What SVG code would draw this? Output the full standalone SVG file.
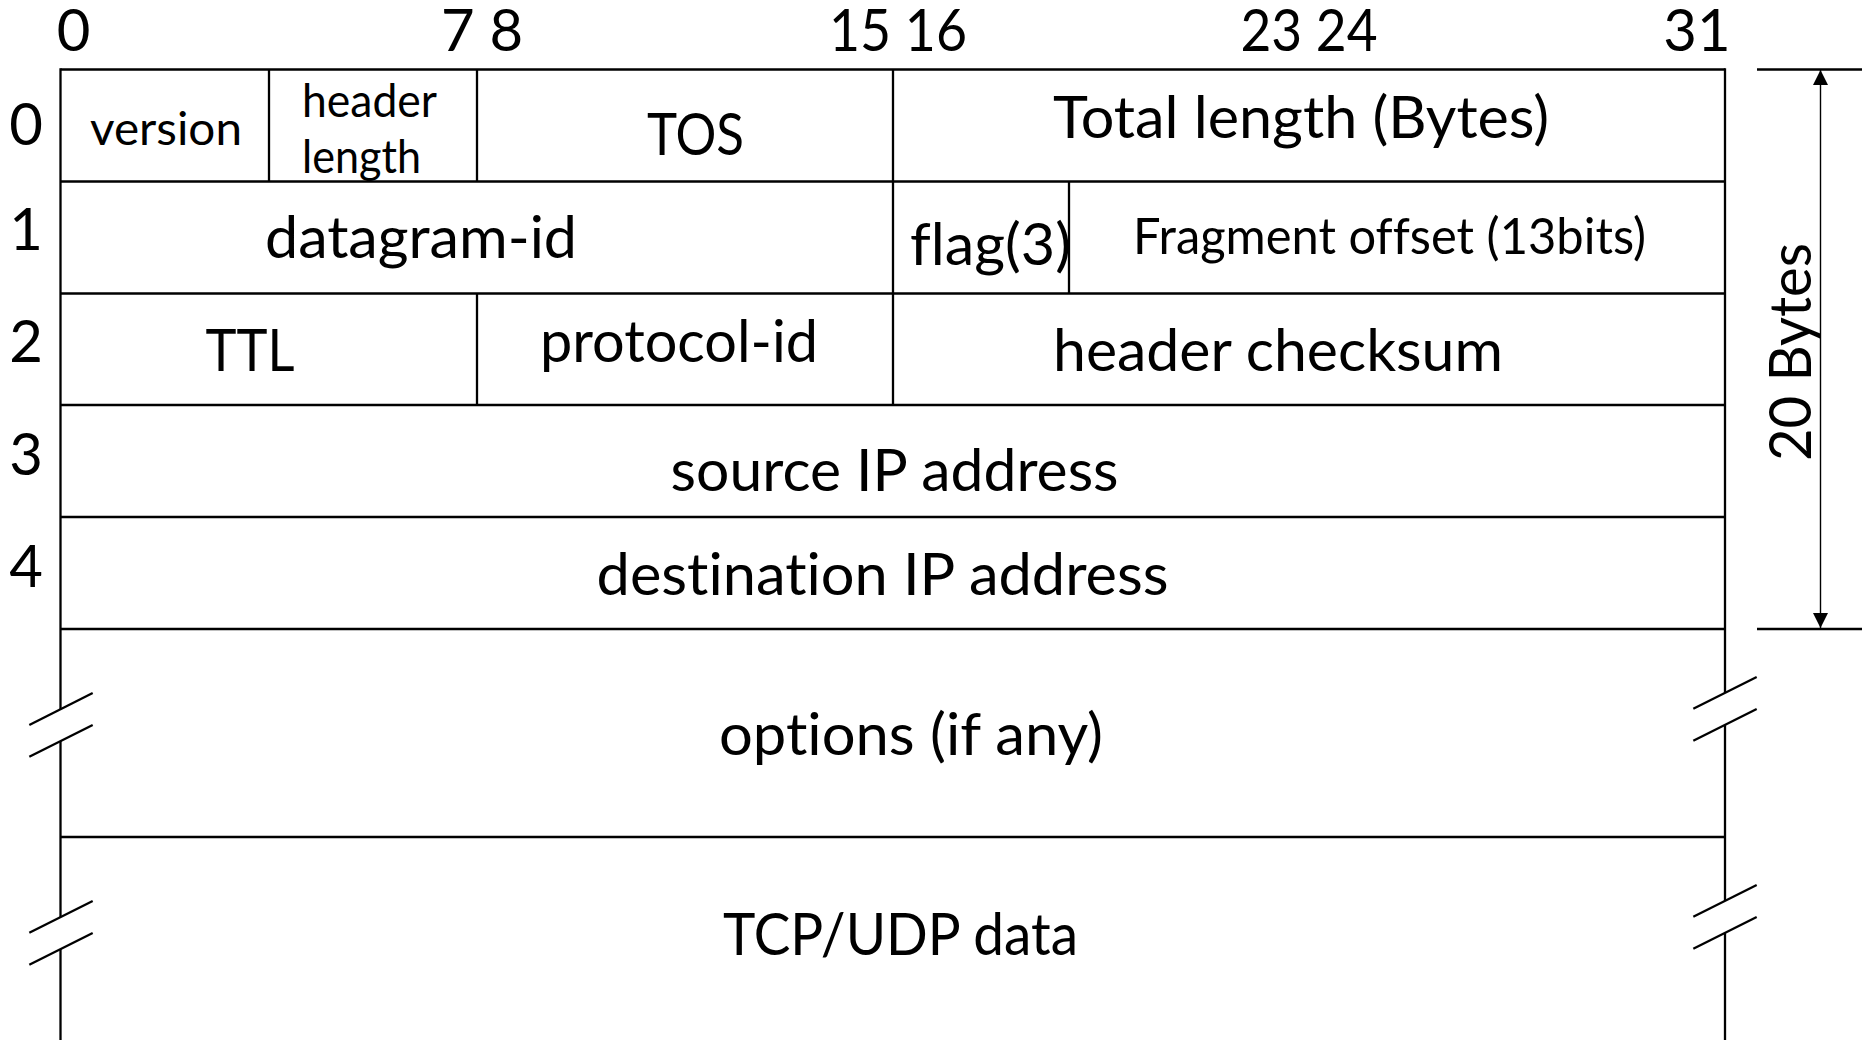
<svg xmlns="http://www.w3.org/2000/svg" width="1862" height="1040" viewBox="0 0 1862 1040">
  <style>
    .grid { stroke: #000; stroke-width: 2.3; fill: none; stroke-linecap: butt; }
    .dim { stroke: #000; stroke-width: 1.4; fill: none; }
    text { font-family: Lato, "Liberation Sans", sans-serif; fill: #000; font-variant-ligatures: none; font-feature-settings: "liga" 0, "clig" 0; }
    .lbl { font-size: 58px; text-anchor: middle; }
    .small { font-size: 47px; }
    .frag { font-size: 50px; text-anchor: middle; }
  </style>
  <defs>
    <marker id="arrow" viewBox="0 0 10 10" refX="10" refY="5" markerWidth="15" markerHeight="15" markerUnits="userSpaceOnUse" orient="auto-start-reverse">
      <path d="M0,0 L10,5 L0,10 z" fill="#000"/>
    </marker>
  </defs>
  <rect width="1862" height="1040" fill="#fff"/>

  <!-- bit ruler -->
  <g id="bit-ruler">
    <text class="lbl" x="73.5" y="51">0</text>
    <text class="lbl" x="482" y="51">7 8</text>
    <text class="lbl" x="898" y="51" textLength="138" lengthAdjust="spacingAndGlyphs">15 16</text>
    <text class="lbl" x="1309" y="51" textLength="137" lengthAdjust="spacingAndGlyphs">23 24</text>
    <text class="lbl" x="1697" y="51">31</text>
  </g>

  <!-- word index -->
  <g id="word-index">
    <text class="lbl" x="26" y="145">0</text>
    <text class="lbl" x="26" y="250">1</text>
    <text class="lbl" x="26" y="362">2</text>
    <text class="lbl" x="26" y="475">3</text>
    <text class="lbl" x="26" y="587">4</text>
  </g>

  <!-- table grid -->
  <g id="grid" class="grid">
    <!-- row separators -->
    <line x1="60.5" y1="69.5" x2="1725" y2="69.5"/>
    <line x1="60.5" y1="181.5" x2="1725" y2="181.5"/>
    <line x1="60.5" y1="293.5" x2="1725" y2="293.5"/>
    <line x1="60.5" y1="405" x2="1725" y2="405"/>
    <line x1="60.5" y1="517" x2="1725" y2="517"/>
    <line x1="60.5" y1="629" x2="1725" y2="629"/>
    <line x1="60.5" y1="837" x2="1725" y2="837"/>
    <!-- left edge, broken twice -->
    <line x1="60.5" y1="68.35" x2="60.5" y2="709.3"/>
    <line x1="60.5" y1="741" x2="60.5" y2="917"/>
    <line x1="60.5" y1="949" x2="60.5" y2="1040"/>
    <!-- right edge, broken twice -->
    <line x1="1725" y1="68.35" x2="1725" y2="693"/>
    <line x1="1725" y1="725" x2="1725" y2="901"/>
    <line x1="1725" y1="933" x2="1725" y2="1040"/>
    <!-- field dividers -->
    <line x1="269" y1="69.5" x2="269" y2="181.5"/>
    <line x1="477" y1="69.5" x2="477" y2="181.5"/>
    <line x1="893" y1="69.5" x2="893" y2="405"/>
    <line x1="1069" y1="181.5" x2="1069" y2="293.5"/>
    <line x1="477" y1="293.5" x2="477" y2="405"/>
    <!-- break marks -->
    <line x1="29.3" y1="725" x2="92.7" y2="693"/>
    <line x1="29.3" y1="756.7" x2="92.7" y2="725"/>
    <line x1="29.3" y1="932.7" x2="92.7" y2="901"/>
    <line x1="29.3" y1="964.7" x2="92.7" y2="933"/>
    <line x1="1693.3" y1="708.7" x2="1756.7" y2="677"/>
    <line x1="1693.3" y1="740.7" x2="1756.7" y2="709"/>
    <line x1="1693.3" y1="916.7" x2="1756.7" y2="885"/>
    <line x1="1693.3" y1="948.7" x2="1756.7" y2="917"/>
  </g>

  <!-- header fields -->
  <g id="version"><text class="lbl small" x="166" y="145" textLength="152" lengthAdjust="spacingAndGlyphs">version</text></g>
  <g id="header-length">
    <text class="small" x="302" y="117" textLength="135" lengthAdjust="spacingAndGlyphs">header</text>
    <text class="small" x="302" y="173" textLength="119" lengthAdjust="spacingAndGlyphs">length</text>
  </g>
  <g id="tos"><text class="lbl" x="695.5" y="155" textLength="97" lengthAdjust="spacingAndGlyphs">TOS</text></g>
  <g id="total-length"><text class="lbl" x="1301" y="138" textLength="496" lengthAdjust="spacingAndGlyphs">Total length (Bytes)</text></g>
  <g id="datagram-id"><text class="lbl" x="421" y="258" textLength="312" lengthAdjust="spacingAndGlyphs">datagram-id</text></g>
  <g id="flag"><text x="910" y="265" font-size="58" textLength="161" lengthAdjust="spacingAndGlyphs">flag(3)</text></g>
  <g id="fragment-offset"><text class="frag" x="1389.5" y="254" textLength="513" lengthAdjust="spacingAndGlyphs">Fragment offset (13bits)</text></g>
  <g id="ttl"><text class="lbl" x="250" y="370.7" textLength="89" lengthAdjust="spacingAndGlyphs">TTL</text></g>
  <g id="protocol-id"><text class="lbl" x="679" y="362" textLength="278" lengthAdjust="spacingAndGlyphs">protocol-id</text></g>
  <g id="header-checksum"><text class="lbl" x="1278" y="370.7" textLength="450" lengthAdjust="spacingAndGlyphs">header checksum</text></g>
  <g id="source-ip"><text class="lbl" x="894.6" y="490.7" textLength="448" lengthAdjust="spacingAndGlyphs">source IP address</text></g>
  <g id="destination-ip"><text class="lbl" x="882.6" y="595" textLength="572" lengthAdjust="spacingAndGlyphs">destination IP address</text></g>
  <g id="options"><text class="lbl" x="911" y="755" textLength="384" lengthAdjust="spacingAndGlyphs">options (if any)</text></g>
  <g id="payload"><text class="lbl" x="900.5" y="955" textLength="355" lengthAdjust="spacingAndGlyphs">TCP/UDP data</text></g>

  <!-- 20-byte header span -->
  <g id="connectors">
    <line class="grid" x1="1757" y1="69.5" x2="1862" y2="69.5"/>
    <line class="grid" x1="1757" y1="629" x2="1862" y2="629"/>
    <line class="dim" x1="1820.5" y1="70" x2="1820.5" y2="628" marker-start="url(#arrow)" marker-end="url(#arrow)"/>
  </g>
  <g id="header-size"><text class="lbl" transform="translate(1811,352) rotate(-90)" x="0" y="0" textLength="218" lengthAdjust="spacingAndGlyphs">20 Bytes</text></g>
</svg>
